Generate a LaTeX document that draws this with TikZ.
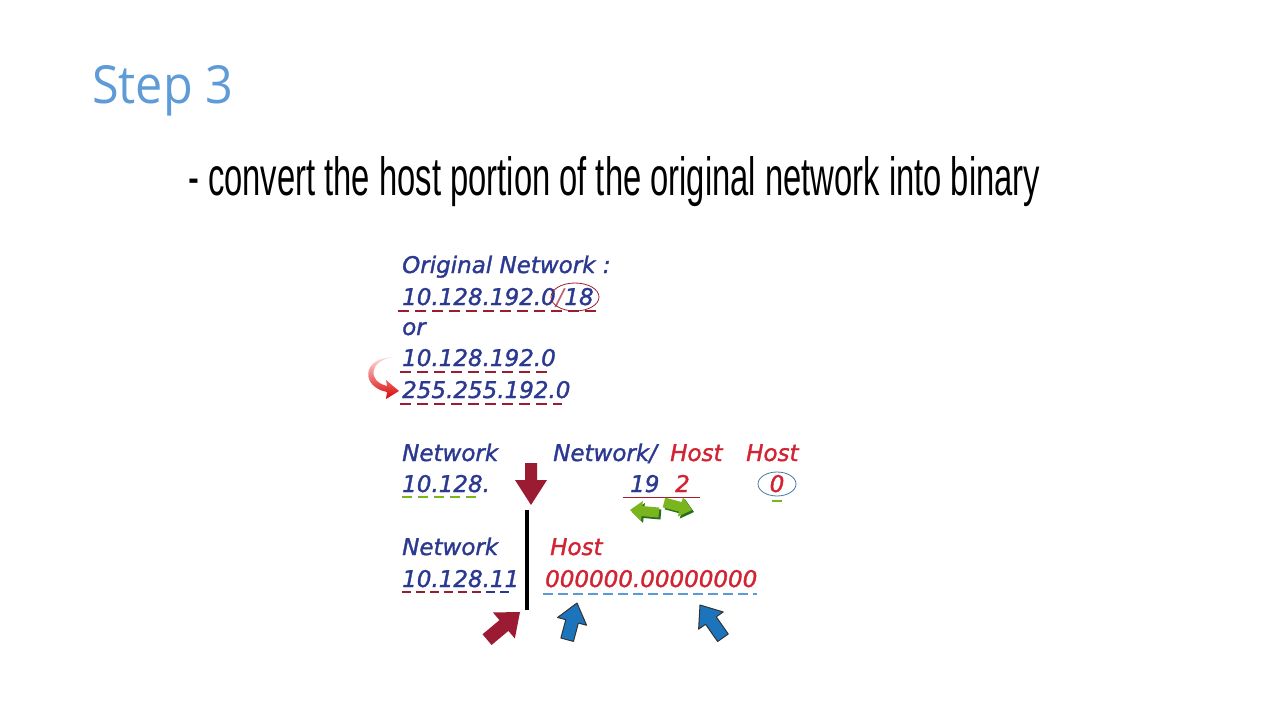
\documentclass[tikz,border=0pt]{standalone}
\usepackage{graphicx}
\usepackage{fontspec}
\setmainfont{DejaVu Sans}
\newfontfamily\diagfont{DejaVu Sans}[BoldItalicFont={DejaVu Sans Oblique}, BoldItalicFeatures={FakeBold=1.4}]
\newfontfamily\handfont{Liberation Sans}
\newfontfamily\titlefont{Open Sans}
\usetikzlibrary{calc}

\definecolor{navy}{RGB}{43,57,144}
\definecolor{hostred}{RGB}{210,35,50}
\definecolor{maroon}{RGB}{155,28,50}
\definecolor{leaf}{RGB}{122,181,29}
\definecolor{leafdark}{RGB}{40,110,30}
\definecolor{arrowblue}{RGB}{28,117,188}
\definecolor{skyblue}{RGB}{91,155,213}
\definecolor{stepblue}{RGB}{95,155,215}

% fat block arrow: #1 style, #2 tip, #3 angle, #4 length, #5 head length, #6 head half-width, #7 shaft half-width
\newcommand\fatarrow[7]{%
  \begin{scope}[shift={(#2)}, rotate=#3]
    \path[#1] (0,0) -- (-#5,-#6) -- (-#5,-#7) -- (-#4,-#7) -- (-#4,#7) -- (-#5,#7) -- (-#5,#6) -- cycle;
  \end{scope}}

\tikzset{
  lbl/.style={inner sep=0, anchor=base west, font=\fontsize{23}{27}\selectfont\diagfont\bfseries\itshape},
  net/.style={lbl, text=navy},
  host/.style={lbl, text=hostred},
  uline/.style={line width=2.2pt, dash pattern=on 11pt off 6pt},
}

\begin{document}
\begin{tikzpicture}[x=1pt, y=-1pt]
  \fill[white] (0,0) rectangle (1270,712);
  \useasboundingbox (0,0) rectangle (1270,712);

  % heading
  \node[anchor=base west, inner sep=0, text=stepblue] (title) at (92,103)
    {\resizebox{141pt}{38pt}{\titlefont Step 3}};
  \node[anchor=base west, inner sep=0] (sub) at (188,195)
    {\resizebox{852pt}{39pt}{\handfont - convert the host portion of the original network into binary}};

  % original network block
  \node[net] (orig) at (402,273) {Original Network :};
  \node[net] (addr) at (402,305) {10.128.192.0};
  \node[lbl, font=\fontsize{23}{27}\selectfont\diagfont\itshape, text=maroon!70, anchor=base west] (slash) at (addr.base east) {/};
  \node[net, anchor=base west] (pref) at (slash.base east) {18};
  \draw[maroon, line width=0.8pt] (575,297) ellipse [x radius=24, y radius=14];
  \draw[maroon, uline] (398,311) -- (602,311);
  \node[net] (or) at (402,335) {or};
  \node[net] (ip) at (402,366) {10.128.192.0};
  \draw[maroon, uline] (400,372) -- (550,372);
  \node[net] (mask) at (402,398) {255.255.192.0};
  \draw[maroon, uline] (400,404) -- (562,404);

  % curved pointer to the mask
  \coordinate (ctip) at (399,391);
  \shade[top color=red!12, bottom color=red!85!black, shading angle=0]
    (393,357) .. controls (369,361) and (367,381) .. (387,386)
    -- (386,380) -- (ctip) -- (386,399) -- (387,392)
    .. controls (361,387) and (361,358) .. (393,357) -- cycle;

  % second block
  \node[net] (n1) at (402,461) {Network};
  \node[net] (n1a) at (402,492) {10.128.};
  \draw[leaf, line width=2.2pt, dash pattern=on 10pt off 6pt] (402,497) -- (481,497);

  \node[net] (n2) at (553,461) {Network/};
  \node[host] (h2) at (670,461) {Host};
  \node[host] (h3) at (746,461) {Host};

  \node[net] (b19) at (630,492) {19};
  \node[host] (b2) at (675,492) {2};
  \draw[hostred!80!black, line width=1pt] (623,497) -- (700,497);

  \node[host, anchor=base] (zero) at (777,492) {0};
  \draw[arrowblue!60!gray, line width=0.8pt] (777,484) ellipse [x radius=19, y radius=12];
  \draw[leaf, line width=2.5pt] (772,501) -- (782,501);

  % small green shift arrows
  \fatarrow{fill=leafdark}{632,512}{175}{29}{12}{10}{5}
  \fatarrow{fill=leaf}{630,510}{175}{29}{12}{10}{5}
  \fatarrow{fill=leafdark}{694,512}{-15}{29}{12}{10}{5}
  \fatarrow{fill=leaf}{692,510}{-15}{29}{12}{10}{5}

  % split marker
  \fatarrow{fill=maroon}{531,505}{-90}{42}{25}{16}{6}
  \draw[black, line width=4pt] (527,510) coordinate (bartop) -- (527,610) coordinate (barbot);

  % third block
  \node[net] (n3) at (402,555) {Network};
  \node[net] (n3a) at (402,587) {10.128.11};
  \draw[maroon, uline, dash pattern=on 9pt off 5pt] (402,592) -- (481,592);
  \draw[navy, uline, dash pattern=on 9pt off 5pt] (486,592) -- (512,592);
  \node[host] (h4) at (550,555) {Host};
  \node[host] (bits) at (545,587) {000000.00000000};
  \draw[skyblue, uline, dash pattern=on 10pt off 5pt] (543,594) -- (757,594);

  % pointers below
  \fatarrow{fill=maroon}{520,612}{40}{43}{21}{17}{7}
  \fatarrow{fill=arrowblue, draw=black!80, line width=1pt, line join=round}{577,603}{75}{38}{19}{15}{6.5}
  \fatarrow{fill=arrowblue, draw=black!80, line width=1pt, line join=round}{700,605}{125}{40}{19}{15}{6.5}
\end{tikzpicture}
\end{document}
